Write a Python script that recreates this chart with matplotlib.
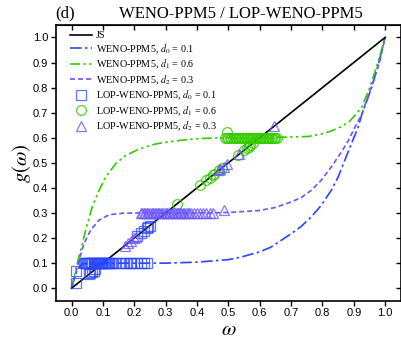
import numpy as np
import matplotlib
matplotlib.use("Agg")
import matplotlib.pyplot as plt

plt.rcParams['mathtext.fontset'] = 'stix'
plt.rcParams['font.family'] = ['Liberation Serif', 'DejaVu Serif']

# ---- data ----
js_w = [0.0, 1.0]
js_g = [0.0, 1.0]

# WENO-PPM5, d0 = 0.1
w_d0 = [0.0, 0.008, 0.018, 0.034, 0.06, 0.1, 0.2, 0.3, 0.4, 0.5, 0.54, 0.6, 0.636, 0.70,
        0.732, 0.764, 0.796, 0.828, 0.85, 0.871, 0.892, 0.914, 0.925, 0.957, 0.978, 1.0]
g_d0 = [0.0, 0.035, 0.073, 0.097, 0.1, 0.1, 0.1, 0.1, 0.104, 0.114, 0.124, 0.145, 0.164, 0.217,
        0.246, 0.284, 0.330, 0.390, 0.443, 0.509, 0.575, 0.642, 0.69, 0.80, 0.89, 1.0]

# WENO-PPM5, d1 = 0.6
w_d1 = [0.0, 0.018, 0.029, 0.045, 0.066, 0.088, 0.109, 0.141, 0.173, 0.216, 0.264, 0.3, 0.35,
        0.4, 0.45, 0.5, 0.6, 0.70, 0.753, 0.796, 0.828, 0.860, 0.887, 0.925, 0.951, 0.978, 1.0]
g_d1 = [0.0, 0.099, 0.152, 0.232, 0.325, 0.391, 0.444, 0.497, 0.530, 0.555, 0.574, 0.582, 0.590,
        0.596, 0.599, 0.600, 0.601, 0.603, 0.605, 0.614, 0.627, 0.644, 0.666, 0.72, 0.80, 0.904, 1.0]

# WENO-PPM5, d2 = 0.3
w_d2 = [0.0, 0.013, 0.024, 0.040, 0.061, 0.088, 0.12, 0.163, 0.2, 0.3, 0.4, 0.5, 0.6, 0.65,
        0.70, 0.732, 0.764, 0.796, 0.828, 0.860, 0.882, 0.903, 0.914, 0.925, 0.957, 0.983, 1.0]
g_d2 = [0.0, 0.060, 0.113, 0.179, 0.232, 0.272, 0.293, 0.299, 0.3, 0.3, 0.3, 0.302, 0.31, 0.322,
        0.344, 0.361, 0.390, 0.430, 0.483, 0.542, 0.587, 0.64, 0.666, 0.693, 0.805, 0.905, 1.0]

# LOP-WENO-PPM5, d0 = 0.1
sq_w = [0.013, 0.015, 0.055, 0.06, 0.065, 0.07, 0.075, 0.21, 0.22, 0.23, 0.24, 0.245, 0.25,
        0.04, 0.043, 0.046, 0.05, 0.053, 0.056, 0.06, 0.063, 0.066, 0.07, 0.073, 0.076, 0.08,
        0.083, 0.086, 0.09, 0.093, 0.096, 0.1, 0.103, 0.106, 0.11, 0.113, 0.116, 0.12, 0.125,
        0.13, 0.14, 0.15, 0.165, 0.175, 0.185, 0.19, 0.2, 0.21, 0.22, 0.23, 0.24]
sq_g = [0.02, 0.068, 0.055, 0.06, 0.065, 0.07, 0.075, 0.21, 0.22, 0.23, 0.24, 0.245, 0.25,
        0.1, 0.1, 0.1, 0.1, 0.1, 0.1, 0.1, 0.1, 0.1, 0.1, 0.1, 0.1, 0.1,
        0.1, 0.1, 0.1, 0.1, 0.1, 0.1, 0.1, 0.1, 0.1, 0.1, 0.1, 0.1, 0.1,
        0.1, 0.1, 0.1, 0.1, 0.1, 0.1, 0.1, 0.1, 0.1, 0.1, 0.1, 0.1]

# LOP-WENO-PPM5, d1 = 0.6
ci_w = [0.335, 0.41, 0.43, 0.44, 0.45, 0.455, 0.47, 0.48, 0.53, 0.55, 0.56, 0.565, 0.57, 0.58,
        0.497, 0.49, 0.495, 0.5, 0.505, 0.51, 0.515, 0.52, 0.525, 0.53, 0.535, 0.54, 0.545,
        0.55, 0.555, 0.56, 0.565, 0.57, 0.575, 0.58, 0.585, 0.59, 0.595, 0.6, 0.605, 0.61,
        0.615, 0.62, 0.625, 0.63, 0.635, 0.64, 0.645, 0.65, 0.655]
ci_g = [0.335, 0.41, 0.43, 0.44, 0.45, 0.455, 0.47, 0.48, 0.53, 0.55, 0.56, 0.565, 0.57, 0.58,
        0.621, 0.6, 0.6, 0.6, 0.6, 0.6, 0.6, 0.6, 0.6, 0.6, 0.6, 0.6, 0.6,
        0.6, 0.6, 0.6, 0.6, 0.6, 0.6, 0.6, 0.6, 0.6, 0.6, 0.6, 0.6, 0.6,
        0.6, 0.6, 0.6, 0.6, 0.6, 0.6, 0.6, 0.6, 0.6]

# LOP-WENO-PPM5, d2 = 0.3
tr_w = [0.17, 0.18, 0.19, 0.2, 0.205, 0.47, 0.475, 0.485, 0.497, 0.534, 0.646, 0.486,
        0.22, 0.225, 0.23, 0.235, 0.24, 0.245, 0.25, 0.255, 0.26, 0.265, 0.27, 0.275, 0.28,
        0.285, 0.29, 0.295, 0.3, 0.305, 0.31, 0.315, 0.32, 0.325, 0.33, 0.335, 0.34, 0.345,
        0.35, 0.355, 0.36, 0.365, 0.37, 0.375, 0.38, 0.39, 0.4, 0.41, 0.42, 0.43, 0.44, 0.45]
tr_g = [0.17, 0.18, 0.19, 0.2, 0.205, 0.47, 0.475, 0.485, 0.497, 0.534, 0.646, 0.31,
        0.3, 0.3, 0.3, 0.3, 0.3, 0.3, 0.3, 0.3, 0.3, 0.3, 0.3, 0.3, 0.3,
        0.3, 0.3, 0.3, 0.3, 0.3, 0.3, 0.3, 0.3, 0.3, 0.3, 0.3, 0.3, 0.3,
        0.3, 0.3, 0.3, 0.3, 0.3, 0.3, 0.3, 0.3, 0.3, 0.3, 0.3, 0.3, 0.3, 0.3]

c_blue = '#2a45ff'
c_green = '#33cc00'
c_purple = '#6a55ff'

fig = plt.figure(figsize=(4.02, 3.41), dpi=100)
ax = fig.add_axes([0.139, 0.118, 0.858, 0.809])

ax.plot(js_w, js_g, color='black', lw=1.2, label='JS', zorder=3)
ax.plot(w_d0, g_d0, color=c_blue, lw=1.2, dashes=(7, 2, 1.5, 2), label='WENO-PPM5, $d_0$ = 0.1')
ax.plot(w_d1, g_d1, color=c_green, lw=1.2, dashes=(6, 2, 1.5, 2, 1.5, 2), label='WENO-PPM5, $d_1$ = 0.6')
ax.plot(w_d2, g_d2, color=c_purple, lw=1.2, dashes=(3, 1.8), label='WENO-PPM5, $d_2$ = 0.3')

ax.plot(sq_w, sq_g, ls='none', marker='s', ms=6.5, mfc='none', mec=c_blue, mew=0.9, alpha=0.75,
        label='LOP-WENO-PPM5, $d_0$ = 0.1', zorder=4)
ax.plot(ci_w, ci_g, ls='none', marker='o', ms=7, mfc='none', mec=c_green, mew=0.9, alpha=0.85,
        label='LOP-WENO-PPM5, $d_1$ = 0.6', zorder=4)
ax.plot(tr_w, tr_g, ls='none', marker='^', ms=7.5, mfc='none', mec=c_purple, mew=0.9, alpha=0.8,
        label='LOP-WENO-PPM5, $d_2$ = 0.3', zorder=4)

ax.set_xlim(-0.05, 1.05)
ax.set_ylim(-0.05, 1.05)
ax.set_xticks(np.arange(0, 1.01, 0.1))
ax.set_yticks(np.arange(0, 1.01, 0.1))
ax.xaxis.set_major_formatter(matplotlib.ticker.FormatStrFormatter('%.1f'))
ax.yaxis.set_major_formatter(matplotlib.ticker.FormatStrFormatter('%.1f'))
ax.tick_params(axis='both', which='major', direction='out', length=3.5, width=1,
               labelsize=8, pad=2)
for lab in ax.get_xticklabels() + ax.get_yticklabels():
    lab.set_family('Liberation Sans')

# mirrored inward ticks on top / right
axt = ax.secondary_xaxis('top')
axt.set_xticks(np.arange(0, 1.01, 0.1))
axt.tick_params(direction='in', length=3.5, width=1, labeltop=False)
axr = ax.secondary_yaxis('right')
axr.set_yticks(np.arange(0, 1.01, 0.1))
axr.tick_params(direction='in', length=3.5, width=1, labelright=False)
for s in ax.spines.values():
    s.set_linewidth(1.2)

ax.set_xlabel(r'$\omega$', fontsize=15, labelpad=2)
ax.set_ylabel(r'$g(\omega)$', fontsize=15)
ax.yaxis.set_label_coords(-0.065, 0.5)

ax.legend(loc='upper left', bbox_to_anchor=(0.029, 0.992), borderaxespad=0,
          frameon=False, fontsize=7.3, handlelength=2.2,
          labelspacing=0.2, handletextpad=0.35)

fig.text(0.137, 0.948, '(d)', fontsize=12)
fig.text(0.60, 0.948, 'WENO-PPM5 / LOP-WENO-PPM5', fontsize=12, ha='center')

plt.savefig('out.png', dpi=100)
